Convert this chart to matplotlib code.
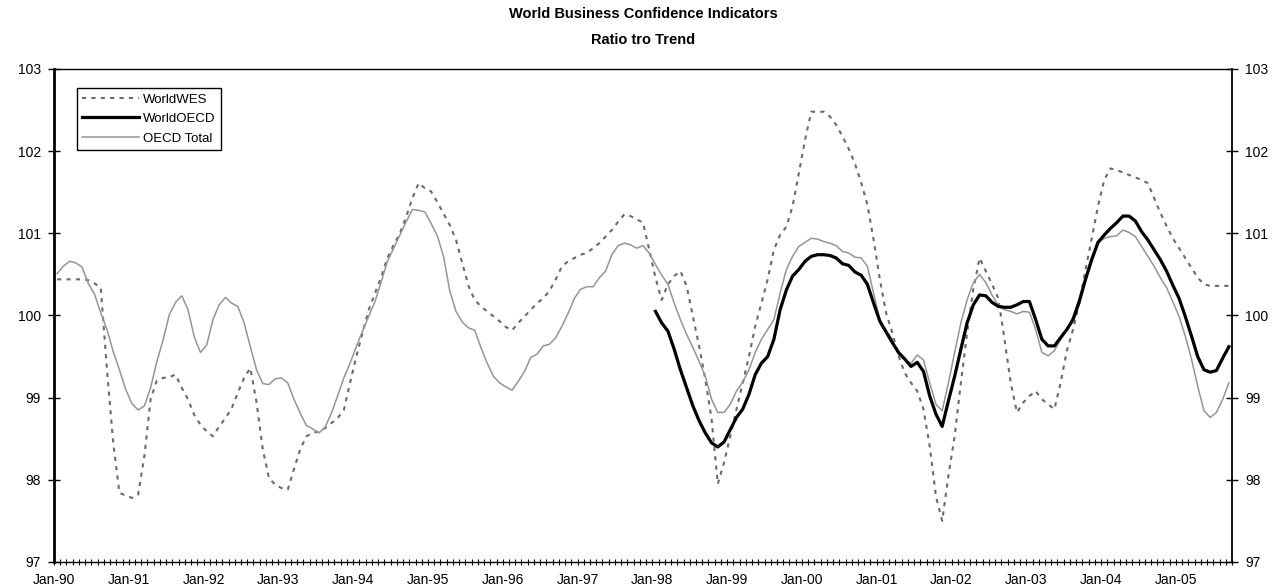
import numpy as np
import matplotlib
matplotlib.use("Agg")
import matplotlib.pyplot as plt

plt.rcParams['font.family'] = ['Liberation Sans', 'DejaVu Sans']

# ---------------- data (monthly, Jan-90 .. Sep-05) ----------------
start_year = 1990
n_months = 189
year_labels = ["Jan-90", "Jan-91", "Jan-92", "Jan-93", "Jan-94", "Jan-95", "Jan-96",
               "Jan-97", "Jan-98", "Jan-99", "Jan-00", "Jan-01", "Jan-02", "Jan-03",
               "Jan-04", "Jan-05"]

world_wes = [
    100.44, 100.44, 100.44, 100.44, 100.44, 100.43, 100.39, 100.34, 99.34, 98.45,
    97.84, 97.81, 97.78, 97.82, 98.29, 98.98, 99.21, 99.24, 99.25, 99.28,
    99.12, 98.98, 98.79, 98.67, 98.59, 98.53, 98.65, 98.75, 98.87, 99.06,
    99.24, 99.36, 98.94, 98.37, 98.02, 97.94, 97.90, 97.88, 98.13, 98.37,
    98.53, 98.57, 98.59, 98.63, 98.69, 98.75, 98.85, 99.18, 99.50, 99.79,
    100.07, 100.27, 100.47, 100.70, 100.86, 101.00, 101.20, 101.43, 101.61, 101.55,
    101.51, 101.38, 101.24, 101.10, 100.92, 100.64, 100.36, 100.19, 100.11, 100.05,
    99.99, 99.93, 99.86, 99.82, 99.91, 99.99, 100.07, 100.15, 100.21, 100.30,
    100.44, 100.60, 100.66, 100.70, 100.74, 100.76, 100.82, 100.88, 100.96, 101.04,
    101.14, 101.23, 101.21, 101.17, 101.13, 100.80, 100.46, 100.19, 100.38, 100.48,
    100.54, 100.36, 99.99, 99.63, 99.22, 98.74, 97.95, 98.21, 98.53, 98.86,
    99.18, 99.50, 99.87, 100.15, 100.44, 100.80, 100.98, 101.08, 101.33, 101.73,
    102.14, 102.48, 102.48, 102.48, 102.42, 102.32, 102.18, 102.03, 101.85, 101.62,
    101.35, 100.92, 100.44, 100.03, 99.79, 99.51, 99.30, 99.18, 99.08, 98.86,
    98.41, 97.80, 97.50, 98.05, 98.53, 99.18, 99.79, 100.32, 100.70, 100.54,
    100.38, 100.21, 99.71, 99.18, 98.82, 98.94, 99.02, 99.08, 98.98, 98.92,
    98.86, 99.18, 99.57, 99.83, 100.15, 100.56, 100.94, 101.33, 101.65, 101.79,
    101.77, 101.74, 101.71, 101.68, 101.65, 101.61, 101.43, 101.25, 101.09, 100.94,
    100.82, 100.70, 100.58, 100.46, 100.38, 100.36, 100.36, 100.36, 100.36,
]

world_oecd_start = 96  # Jan-98
world_oecd = [
    100.05, 99.91, 99.81, 99.59, 99.34, 99.12, 98.90, 98.72, 98.57, 98.45,
    98.40, 98.46, 98.61, 98.76, 98.86, 99.04, 99.28, 99.42, 99.50, 99.71,
    100.07, 100.31, 100.48, 100.56, 100.66, 100.72, 100.74, 100.74, 100.73, 100.70,
    100.63, 100.61, 100.53, 100.49, 100.38, 100.15, 99.93, 99.80, 99.67, 99.55,
    99.47, 99.38, 99.43, 99.32, 99.02, 98.80, 98.65, 98.96, 99.26, 99.59,
    99.91, 100.13, 100.25, 100.24, 100.16, 100.11, 100.10, 100.10, 100.13, 100.17,
    100.17, 99.95, 99.71, 99.63, 99.63, 99.73, 99.83, 99.95, 100.17, 100.44,
    100.68, 100.89, 100.98, 101.06, 101.13, 101.21, 101.21, 101.15, 101.02, 100.92,
    100.80, 100.68, 100.54, 100.37, 100.21, 99.99, 99.75, 99.50, 99.34, 99.31,
    99.33, 99.48, 99.62,
]

oecd_total = [
    100.51, 100.60, 100.66, 100.64, 100.59, 100.39, 100.26, 100.03, 99.83, 99.56,
    99.34, 99.10, 98.93, 98.85, 98.90, 99.12, 99.44, 99.70, 100.01, 100.16,
    100.24, 100.07, 99.74, 99.55, 99.64, 99.95, 100.13, 100.22, 100.15, 100.11,
    99.91, 99.62, 99.34, 99.17, 99.16, 99.23, 99.24, 99.18, 98.98, 98.81,
    98.66, 98.62, 98.57, 98.64, 98.81, 99.02, 99.24, 99.42, 99.62, 99.81,
    99.99, 100.17, 100.41, 100.66, 100.82, 100.98, 101.14, 101.29, 101.28, 101.26,
    101.12, 100.97, 100.72, 100.30, 100.05, 99.92, 99.85, 99.82, 99.61, 99.42,
    99.26, 99.18, 99.13, 99.09, 99.20, 99.32, 99.49, 99.53, 99.63, 99.65,
    99.73, 99.87, 100.03, 100.21, 100.32, 100.35, 100.35, 100.46, 100.54, 100.74,
    100.85, 100.88, 100.86, 100.82, 100.85, 100.76, 100.62, 100.49, 100.38, 100.15,
    99.95, 99.77, 99.61, 99.44, 99.26, 98.98, 98.82, 98.82, 98.92, 99.08,
    99.19, 99.34, 99.55, 99.71, 99.83, 99.95, 100.27, 100.56, 100.72, 100.84,
    100.89, 100.94, 100.93, 100.90, 100.88, 100.85, 100.78, 100.76, 100.71, 100.70,
    100.60, 100.27, 99.95, 99.81, 99.71, 99.52, 99.46, 99.42, 99.52, 99.46,
    99.18, 98.92, 98.84, 99.18, 99.55, 99.91, 100.19, 100.40, 100.50, 100.40,
    100.25, 100.12, 100.07, 100.05, 100.02, 100.05, 100.04, 99.83, 99.55, 99.51,
    99.57, 99.71, 99.83, 99.99, 100.21, 100.48, 100.72, 100.88, 100.94, 100.96,
    100.97, 101.04, 101.01, 100.96, 100.84, 100.72, 100.60, 100.46, 100.34, 100.17,
    99.99, 99.75, 99.47, 99.14, 98.84, 98.76, 98.82, 98.98, 99.18,
]

# ---------------- figure ----------------
W, H = 1277, 588
fig = plt.figure(figsize=(W / 100, H / 100), dpi=100)
ax_l, ax_r, ax_t, ax_b = 54, 1232, 69, 562
ax = fig.add_axes([ax_l / W, 1 - ax_b / H, (ax_r - ax_l) / W, (ax_b - ax_t) / H])

x_all = np.arange(n_months) + 0.5
x_oecd = np.arange(world_oecd_start, world_oecd_start + len(world_oecd)) + 0.5

ax.plot(x_all[:len(world_wes)], world_wes, color='#6a6a6a', lw=1.5,
        linestyle=(0, (2, 2.5)), label='WorldWES', zorder=2)
ax.plot(x_oecd, world_oecd, color='black', lw=2.3, label='WorldOECD', zorder=4,
        solid_joinstyle='round')
ax.plot(x_all[:len(oecd_total)], oecd_total, color='#959595', lw=1.1,
        label='OECD Total', zorder=3)

ax.set_xlim(0, n_months)
ax.set_ylim(97, 103)

# x ticks: minor every month, labels every January
ax.set_xticks(np.arange(0, n_months + 1), minor=True)
ax.set_xticks(np.arange(0, 12 * len(year_labels), 12))
ax.set_xticklabels(year_labels)
ax.tick_params(axis='x', which='both', direction='inout', length=4.5, width=0.8,
               labelsize=10, pad=6)

ax.set_yticks(np.arange(97, 104, 1))
ax.tick_params(axis='y', which='major', direction='inout', length=9, width=1,
               labelsize=10, left=True, right=True, labelleft=True, labelright=True,
               pad=5)

for side, lw in (('left', 2.0), ('right', 1.3), ('top', 1.0), ('bottom', 1.0)):
    ax.spines[side].set_linewidth(lw)
    ax.spines[side].set_color('black')

leg = ax.legend(loc='upper left', bbox_to_anchor=((77 - ax_l) / (ax_r - ax_l),
                                                  (ax_b - 88) / (ax_b - ax_t)),
                borderaxespad=0, fontsize=9.5, handlelength=4.3, handletextpad=0.3,
                labelspacing=0.55, borderpad=0.4, fancybox=False, framealpha=1,
                edgecolor='black')
leg.get_frame().set_linewidth(1.0)

fig.text(643 / W, 1 - 14 / H, "World Business Confidence Indicators",
         ha='center', va='center', fontsize=10.5, fontweight='bold')
fig.text(643 / W, 1 - 40 / H, "Ratio tro Trend",
         ha='center', va='center', fontsize=10.5, fontweight='bold')

fig.savefig("out.png", dpi=100, facecolor='white')
